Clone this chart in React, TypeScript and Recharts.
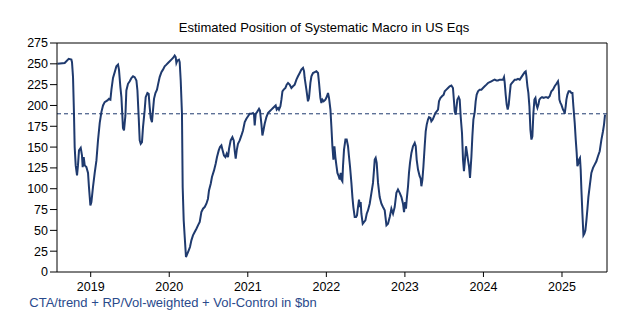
import React from "react";
import { LineChart, Line, XAxis, YAxis, ReferenceLine } from "recharts";

const dates: number[] = [
  2018.576, 2018.669, 2018.72, 2018.754, 2018.762, 2018.775, 2018.787, 2018.796, 2018.809, 2018.826,
  2018.838, 2018.851, 2018.873, 2018.889, 2018.898, 2018.911, 2018.924, 2018.945, 2018.966, 2018.978,
  2018.996, 2019.009, 2019.029, 2019.051, 2019.073, 2019.093, 2019.115, 2019.136, 2019.157, 2019.178,
  2019.213, 2019.233, 2019.251, 2019.264, 2019.284, 2019.306, 2019.327, 2019.348, 2019.36, 2019.378,
  2019.391, 2019.404, 2019.411, 2019.424, 2019.442, 2019.454, 2019.475, 2019.497, 2019.518, 2019.539,
  2019.56, 2019.582, 2019.595, 2019.611, 2019.624, 2019.637, 2019.653, 2019.666, 2019.687, 2019.7,
  2019.722, 2019.738, 2019.751, 2019.764, 2019.78, 2019.793, 2019.806, 2019.824, 2019.844, 2019.857,
  2019.878, 2019.9, 2019.92, 2019.942, 2019.964, 2019.984, 2020.006, 2020.027, 2020.048, 2020.069,
  2020.082, 2020.091, 2020.104, 2020.124, 2020.133, 2020.146, 2020.162, 2020.171, 2020.184, 2020.197,
  2020.213, 2020.231, 2020.248, 2020.264, 2020.282, 2020.302, 2020.324, 2020.346, 2020.366, 2020.388,
  2020.409, 2020.43, 2020.451, 2020.473, 2020.493, 2020.506, 2020.528, 2020.544, 2020.57, 2020.591,
  2020.608, 2020.63, 2020.646, 2020.664, 2020.68, 2020.697, 2020.715, 2020.731, 2020.748, 2020.761,
  2020.782, 2020.804, 2020.821, 2020.833, 2020.846, 2020.859, 2020.875, 2020.897, 2020.919, 2020.939,
  2020.961, 2020.982, 2021.003, 2021.024, 2021.046, 2021.066, 2021.079, 2021.088, 2021.101, 2021.117,
  2021.13, 2021.143, 2021.155, 2021.173, 2021.186, 2021.199, 2021.215, 2021.237, 2021.257, 2021.279,
  2021.3, 2021.321, 2021.343, 2021.355, 2021.368, 2021.385, 2021.397, 2021.415, 2021.428, 2021.441,
  2021.457, 2021.479, 2021.495, 2021.512, 2021.533, 2021.555, 2021.575, 2021.597, 2021.619, 2021.639,
  2021.661, 2021.682, 2021.703, 2021.716, 2021.724, 2021.746, 2021.766, 2021.779, 2021.797, 2021.81,
  2021.83, 2021.852, 2021.873, 2021.894, 2021.907, 2021.924, 2021.937, 2021.95, 2021.966, 2021.988,
  2022.008, 2022.021, 2022.034, 2022.052, 2022.064, 2022.077, 2022.09, 2022.103, 2022.115, 2022.128,
  2022.141, 2022.157, 2022.17, 2022.183, 2022.192, 2022.204, 2022.212, 2022.225, 2022.243, 2022.259,
  2022.276, 2022.288, 2022.301, 2022.319, 2022.332, 2022.344, 2022.361, 2022.378, 2022.39, 2022.403,
  2022.416, 2022.428, 2022.437, 2022.446, 2022.463, 2022.479, 2022.497, 2022.514, 2022.53, 2022.552,
  2022.574, 2022.594, 2022.607, 2022.616, 2022.628, 2022.641, 2022.658, 2022.679, 2022.701, 2022.721,
  2022.743, 2022.765, 2022.785, 2022.807, 2022.828, 2022.849, 2022.87, 2022.892, 2022.912, 2022.934,
  2022.956, 2022.976, 2022.989, 2023.003, 2023.014, 2023.023, 2023.04, 2023.052, 2023.065, 2023.083,
  2023.103, 2023.125, 2023.138, 2023.15, 2023.167, 2023.188, 2023.201, 2023.21, 2023.223, 2023.236,
  2023.252, 2023.265, 2023.278, 2023.294, 2023.307, 2023.325, 2023.337, 2023.354, 2023.371, 2023.388,
  2023.405, 2023.422, 2023.434, 2023.452, 2023.472, 2023.494, 2023.507, 2023.528, 2023.549, 2023.57,
  2023.592, 2023.612, 2023.625, 2023.634, 2023.647, 2023.656, 2023.668, 2023.685, 2023.698, 2023.71,
  2023.727, 2023.74, 2023.752, 2023.765, 2023.778, 2023.791, 2023.803, 2023.816, 2023.829, 2023.847,
  2023.859, 2023.872, 2023.889, 2023.901, 2023.914, 2023.931, 2023.952, 2023.974, 2023.994, 2024.016,
  2024.038, 2024.058, 2024.08, 2024.101, 2024.122, 2024.143, 2024.165, 2024.185, 2024.207, 2024.229,
  2024.249, 2024.262, 2024.271, 2024.283, 2024.296, 2024.309, 2024.322, 2024.334, 2024.347, 2024.364,
  2024.381, 2024.398, 2024.42, 2024.44, 2024.462, 2024.483, 2024.504, 2024.525, 2024.538, 2024.547,
  2024.56, 2024.572, 2024.585, 2024.598, 2024.611, 2024.623, 2024.636, 2024.649, 2024.662, 2024.674,
  2024.687, 2024.7, 2024.712, 2024.729, 2024.746, 2024.767, 2024.789, 2024.805, 2024.822, 2024.843,
  2024.865, 2024.885, 2024.907, 2024.929, 2024.949, 2024.958, 2024.967, 2024.98, 2024.992, 2025.013,
  2025.026, 2025.034, 2025.047, 2025.056, 2025.069, 2025.085, 2025.102, 2025.12, 2025.133, 2025.145,
  2025.162, 2025.175, 2025.187, 2025.196, 2025.204, 2025.217, 2025.229, 2025.238, 2025.247, 2025.26,
  2025.273, 2025.285, 2025.298, 2025.311, 2025.324, 2025.336, 2025.353, 2025.374, 2025.395, 2025.416,
  2025.438, 2025.458, 2025.48, 2025.502, 2025.522, 2025.535, 2025.548,
];

const positions: number[] = [
  250, 251, 256, 255, 252, 234, 191, 150, 128, 116,
  128, 146, 149, 140, 126, 138, 128, 126, 119, 102,
  80, 84, 102, 119, 134, 158, 179, 192, 200, 204,
  206, 208, 207, 219, 233, 240, 247, 249, 243, 222,
  210, 186, 173, 170, 188, 218, 226, 229, 233, 235,
  234, 230, 218, 186, 158, 154, 156, 174, 194, 210,
  215, 214, 198, 185, 180, 194, 208, 215, 219, 225,
  234, 240, 243, 247, 249, 251, 253, 255, 257, 260,
  258, 251, 254, 255, 252, 230, 190, 102, 62, 42,
  18, 22, 26, 30, 38, 44, 48, 52, 56, 60,
  72, 76, 78, 82, 88, 98, 106, 114, 122, 130,
  138, 146, 150, 152, 146, 140, 138, 142, 138, 148,
  158, 162, 158, 146, 136, 146, 154, 158, 164, 170,
  180, 184, 187, 190, 190, 191, 189, 176, 190, 192,
  194, 196, 194, 178, 164, 170, 178, 186, 191, 193,
  195, 197, 199, 200, 195, 197, 195, 199, 207, 217,
  219, 221, 225, 227, 225, 221, 223, 225, 231, 235,
  239, 243, 245, 241, 233, 219, 205, 209, 227, 235,
  239, 240, 241, 239, 227, 209, 203, 207, 205, 207,
  211, 215, 209, 195, 175, 151, 135, 151, 138, 128,
  119, 115, 111, 119, 111, 109, 127, 147, 159, 159,
  151, 139, 127, 107, 90, 78, 66, 66, 68, 78,
  87, 78, 84, 70, 58, 60, 62, 70, 74, 82,
  95, 107, 123, 135, 137, 131, 107, 90, 82, 78,
  74, 56, 58, 66, 76, 70, 78, 95, 99, 95,
  90, 82, 72, 84, 76, 87, 103, 119, 131, 143,
  151, 155, 151, 135, 123, 115, 112, 103, 111, 127,
  151, 169, 177, 183, 186, 185, 181, 183, 187, 191,
  193, 195, 205, 209, 211, 213, 217, 219, 221, 223,
  224, 221, 205, 193, 189, 197, 207, 210, 207, 187,
  167, 135, 121, 135, 151, 143, 135, 127, 113, 139,
  163, 183, 192, 205, 213, 217, 219, 219, 221, 223,
  225, 227, 228, 229, 230, 231, 230, 230, 231, 231,
  231, 234, 227, 213, 201, 195, 201, 213, 225, 227,
  229, 231, 231, 232, 231, 234, 237, 240, 241, 235,
  223, 215, 199, 171, 159, 163, 191, 207, 209, 201,
  197, 201, 207, 209, 210, 209, 210, 210, 209, 211,
  217, 219, 223, 226, 229, 223, 207, 203, 201, 195,
  193, 190, 199, 207, 213, 217, 217, 215, 215, 199,
  179, 159, 143, 127, 129, 135, 137, 123, 99, 70,
  44, 46, 50, 62, 76, 90, 103, 119, 125, 129,
  133, 139, 145, 159, 169, 177, 189,
];

const yearTicks: number[] = [2019, 2020, 2021, 2022, 2023, 2024, 2025];
const valueTicks: number[] = [0, 25, 50, 75, 100, 125, 150, 175, 200, 225, 250, 275];
const threshold = 190;
const xDomain: [number, number] = [2018.571, 2025.573];
const title = "Estimated Position of Systematic Macro in US Eqs";
const footnote = "CTA/trend + RP/Vol-weighted + Vol-Control in $bn";

const data = dates.map((t, i) => ({ t, v: positions[i] }));

const LINE = "#1F3A6E";
const FONT = "Arial, 'Liberation Sans', sans-serif";

export default function App() {
  return (
    <div style={{ position: "relative", width: 622, height: 306 }}>
      <LineChart
        width={622}
        height={306}
        data={data}
        margin={{ top: 35, right: 23, bottom: 12, left: 0 }}
      >
        <XAxis
          dataKey="t"
          type="number"
          domain={xDomain}
          ticks={yearTicks}
          allowDataOverflow
          tickFormatter={(v: number) => String(Math.round(v))}
          axisLine={{ stroke: "#000", strokeWidth: 1 }}
          tickLine={{ stroke: "#000" }}
          tickSize={5}
          tickMargin={5}
          height={30}
          tick={{ fill: "#000", fontSize: 12.5, fontFamily: FONT }}
        />
        <YAxis
          type="number"
          domain={[0, 275]}
          ticks={valueTicks}
          allowDataOverflow
          interval={0}
          axisLine={{ stroke: "#000", strokeWidth: 1 }}
          tickLine={{ stroke: "#000" }}
          tickSize={7}
          tickMargin={2}
          width={49}
          tick={{ fill: "#000", fontSize: 12.5, fontFamily: FONT }}
        />
        <ReferenceLine y={275} stroke="#000" strokeWidth={1} />
        <ReferenceLine x={xDomain[1]} stroke="#000" strokeWidth={1} />
        <ReferenceLine y={threshold} stroke={LINE} strokeWidth={1} strokeDasharray="4 3" />
        <Line
          type="linear"
          dataKey="v"
          stroke={LINE}
          strokeWidth={2}
          dot={false}
          isAnimationActive={false}
        />
      </LineChart>
      <svg
        width={622}
        height={306}
        style={{ position: "absolute", left: 0, top: 0, pointerEvents: "none" }}
      >
        <text x={316} y={24} textAnchor="middle" fontSize={13} fontFamily={FONT} fill="#000">
          {title}
        </text>
        <text x={21.3} y={298.5} fontSize={13} fontFamily={FONT} fill="#2A4A8C">
          {footnote}
        </text>
      </svg>
    </div>
  );
}
